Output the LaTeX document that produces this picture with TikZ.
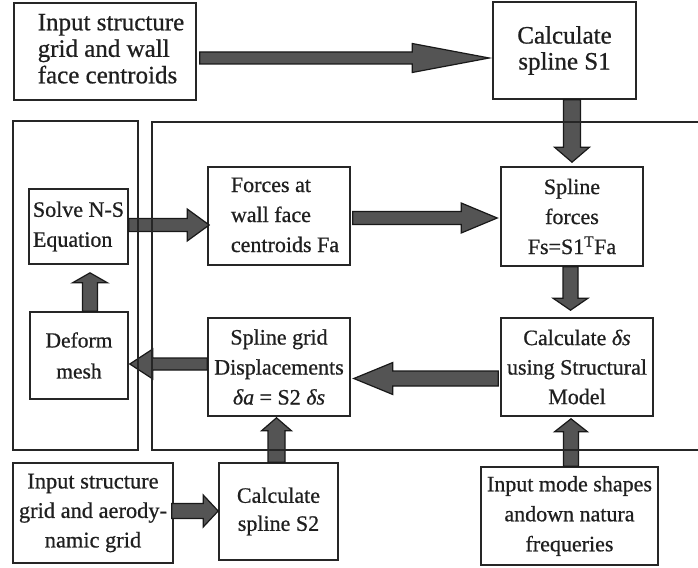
\documentclass[tikz,border=0pt]{standalone}
\usepackage{fontspec}
\setmainfont{Liberation Serif}[FakeBold=0.7]
\usetikzlibrary{calc}
\newcommand{\blockarr}[5]{%
  \coordinate (bab) at ($(#2)!#5!(#1)$);
  \draw[blockarrow] ($(#1)!#3!90:(#2)$) -- ($(bab)!#3!90:(#2)$) -- ($(bab)!#4!90:(#2)$) -- (#2)
    -- ($(bab)!#4!-90:(#2)$) -- ($(bab)!#3!-90:(#2)$) -- ($(#1)!#3!-90:(#2)$) -- cycle;
}
\tikzset{
  box/.style={draw=black!85, line width=1.6pt, fill=white, inner sep=0pt, text=black!88},
  blockarrow/.style={draw=black!90, line width=1.2pt, fill=black!67, line join=miter},
  frame/.style={draw=black!85, line width=1.6pt},
  fa/.style={font=\fontsize{25}{26.5}\selectfont},
  fb/.style={font=\fontsize{22}{30}\selectfont},
}
\begin{document}
\begin{tikzpicture}[x=1pt,y=-1pt]
\useasboundingbox (0,0) rectangle (698,567);
% boxes
\node[box, fa, minimum width=182pt, minimum height=97pt] (A) at (105,51.5)
  {\hspace*{12pt}\begin{tabular}{@{}l@{}}Input structure\\grid and wall\\face centroids\end{tabular}};
\node[box, font=\fontsize{25}{26}\selectfont, align=center, minimum width=143pt, minimum height=97pt] (B) at (564.5,50.5)
  {Calculate\\spline S1};
\node[box, fb, align=left, minimum width=99pt, minimum height=75pt] (solve) at (78.5,226.5)
  {Solve N-S\\Equation};
\node[box, fb, minimum width=142pt, minimum height=98pt] (forces) at (279,216)
  {\hspace*{12pt}\begin{tabular}{@{}l@{}}Forces at\\wall face\\centroids Fa\end{tabular}};
\node[box, fb, align=center, minimum width=142pt, minimum height=99pt] (sf) at (572,216.5)
  {Spline\\forces\\Fs=S1\textsuperscript{T}Fa};
\node[box, font=\fontsize{22}{29.5}\selectfont, align=center, minimum width=152pt, minimum height=98pt] (calc) at (577,367)
  {Calculate \textit{δs}\\using Structural\\Model};
\node[box, fb, align=center, minimum width=142pt, minimum height=98pt] (sg) at (279,367)
  {Spline grid\\Displacements\\\textit{δa} = S2 \textit{δs}};
\node[box, font=\fontsize{21.5}{31}\selectfont, align=center, minimum width=98pt, minimum height=87pt] (deform) at (79,355.5)
  {Deform\\mesh};
\node[box, font=\fontsize{22.4}{29.5}\selectfont, align=center, minimum width=160pt, minimum height=100pt] (ins2) at (93,513)
  {Input structure\\grid and aerody-\\namic grid};
\node[box, font=\fontsize{22}{28}\selectfont, align=center, minimum width=119pt, minimum height=97pt] (calcs2) at (278.5,511.5)
  {Calculate\\spline S2};
\node[box, fb, align=center, minimum width=177pt, minimum height=98pt] (mode) at (569.5,516)
  {Input mode shapes\\andown natura\\frequeries};
% arrow end points
\coordinate (p1s) at ($(A.east)+(3,6.5)$);
\coordinate (p1e) at ($(p1s -| B.west)+(-3,0)$);
\coordinate (p2s) at ($(solve.east)+(0,-1.5)$);
\coordinate (p2e) at ($(p2s -| forces.west)+(2,0)$);
\coordinate (p3s) at ($(forces.east)+(2,2)$);
\coordinate (p3e) at ($(p3s -| sf.west)+(-3,0)$);
\coordinate (p4s) at (B.south -| sf.north);
\coordinate (p4e) at ($(sf.north)+(0,-4)$);
\coordinate (p5s) at ($(sf.south)+(-1.5,0)$);
\coordinate (p5e) at ($(p5s |- calc.north)+(0,-7)$);
\coordinate (p6s) at ($(calc.west)+(-2,11.5)$);
\coordinate (p6e) at ($(p6s -| sg.east)+(3,0)$);
\coordinate (p7s) at ($(sg.west)+(0,-3)$);
\coordinate (p7e) at ($(p7s -| deform.east)+(1,0)$);
\coordinate (p8s) at ($(deform.north)+(11,0)$);
\coordinate (p8e) at ($(p8s |- solve.south)+(0,8)$);
\coordinate (p9s) at ($(ins2.east)+(-2,-2)$);
\coordinate (p9e) at (p9s -| calcs2.west);
\coordinate (p10s) at ($(calcs2.north)+(-2,0)$);
\coordinate (p10e) at ($(p10s |- sg.south)+(0,1)$);
\coordinate (p11s) at ($(mode.north)+(1.5,0)$);
\coordinate (p11e) at ($(p11s |- calc.south)+(0,2)$);
% block arrows
\blockarr{p1s}{p1e}{6pt}{14.5pt}{77pt}
\blockarr{p2s}{p2e}{6.5pt}{16pt}{22pt}
\blockarr{p3s}{p3e}{6.5pt}{15pt}{36pt}
\blockarr{p4s}{p4e}{8.5pt}{17.5pt}{15pt}
\blockarr{p5s}{p5e}{7.5pt}{17.5pt}{12pt}
\blockarr{p6s}{p6e}{7.5pt}{16pt}{39pt}
\blockarr{p7s}{p7e}{6pt}{15pt}{23pt}
\blockarr{p8s}{p8e}{7.5pt}{17.5pt}{10pt}
\blockarr{p9s}{p9e}{7.5pt}{16pt}{15pt}
\blockarr{p10s}{p10e}{8.5pt}{15pt}{13pt}
\blockarr{p11s}{p11e}{7.5pt}{16.5pt}{13pt}
% frames
\draw[frame] (13,121) rectangle (138,450);
\draw[frame] (698,122) -- (152,122) -- (152,450) -- (698,450);
\end{tikzpicture}
\end{document}
